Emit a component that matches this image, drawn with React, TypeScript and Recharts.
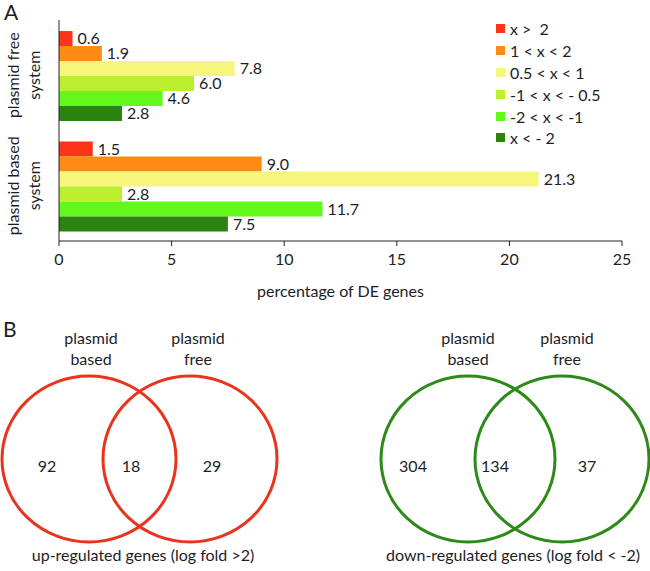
import React from 'react';
import {
  BarChart, Bar, XAxis, YAxis, LabelList,
  ScatterChart, Scatter,
} from 'recharts';

// panel A data
const groups = ['plasmid free system', 'plasmid based system'];
const groupLines = [['plasmid free', 'system'], ['plasmid based', 'system']];
const seriesNames = ['x >  2', '1 < x < 2', '0.5 < x < 1', '-1 < x < - 0.5', '-2 < x < -1', 'x < - 2'];
const seriesKeys = ['s1', 's2', 's3', 's4', 's5', 's6'];
const seriesColors = ['#fc3418', '#fd8b14', '#f6f67c', '#bcf02e', '#62f81a', '#2c8410'];
const plasmidFree = [0.6, 1.9, 7.8, 6.0, 4.6, 2.8];
const plasmidBased = [1.5, 9.0, 21.3, 2.8, 11.7, 7.5];
const xTicks = [0, 5, 10, 15, 20, 25];

// panel B data
const upCounts = [92, 18, 29];
const downCounts = [304, 134, 37];
const setNames = [['plasmid', 'based'], ['plasmid', 'free']];
const captions = ['up-regulated genes (log fold >2)', 'down-regulated genes (log fold < -2)'];

const barData = groups.map((g, i) => {
  const row: Record<string, any> = { group: g };
  const vals = i === 0 ? plasmidFree : plasmidBased;
  seriesKeys.forEach((k, j) => { row[k] = vals[j]; });
  return row;
});

const FONT = 'Lato, "Open Sans", sans-serif';
const TXT = '#1d1d28';

const GroupTick = (props: any) => {
  const { y, index } = props;
  const lines = groupLines[index] || [];
  return (
    <text transform={`translate(19,${y}) rotate(-90)`} textAnchor="middle" fontSize={16} fill={TXT} fontFamily={FONT}>
      {lines.map((l, i) => (
        <tspan key={i} x={0} dy={i === 0 ? 0 : 21}>{l}</tspan>
      ))}
    </text>
  );
};

const LegendBox = () => (
  <div style={{ fontFamily: FONT, fontSize: 16, color: TXT }}>
    {seriesNames.map((n, i) => (
      <div key={n} style={{ display: 'flex', alignItems: 'center', height: 21.8 }}>
        <span style={{ width: 9, height: 9, background: seriesColors[i], display: 'inline-block', marginRight: 5 }} />
        <span style={{ whiteSpace: 'pre' }}>{n}</span>
      </div>
    ))}
  </div>
);

// venn layout (pixel space of lower chart)
const vennCircles = [
  { x: 89, y: 459, c: '#e8341e' }, { x: 190, y: 459, c: '#e8341e' },
  { x: 468, y: 459, c: '#2e8a18' }, { x: 562, y: 459, c: '#2e8a18' },
];
const countPos = [
  { x: 47, y: 468 }, { x: 131, y: 468 }, { x: 212, y: 468 },
  { x: 413, y: 468 }, { x: 495, y: 468 }, { x: 587, y: 468 },
];
const textItems = [
  ...[...upCounts, ...downCounts].map((v, i) => ({ ...countPos[i], t: String(v) })),
  { x: 91, y: 340, t: setNames[0][0] }, { x: 91, y: 361, t: setNames[0][1] },
  { x: 198, y: 340, t: setNames[1][0] }, { x: 198, y: 361, t: setNames[1][1] },
  { x: 468, y: 340, t: setNames[0][0] }, { x: 468, y: 361, t: setNames[0][1] },
  { x: 567, y: 340, t: setNames[1][0] }, { x: 567, y: 361, t: setNames[1][1] },
  { x: 143, y: 557, t: captions[0] }, { x: 513, y: 557, t: captions[1] },
];

const Ellipse = (props: any) => (
  <ellipse cx={props.cx} cy={props.cy} rx={87} ry={83} fill="none" stroke={props.payload.c} strokeWidth={3} />
);
const Txt = (props: any) => (
  <text x={props.cx} y={props.cy} textAnchor="middle" dominantBaseline="middle" fontSize={16} fill={TXT} fontFamily={FONT}>
    {props.payload.t}
  </text>
);

export default function App() {
  return (
    <div style={{ position: 'absolute', left: 0, top: 0, width: 650, height: 571, background: '#fff', fontFamily: FONT }}>
      <div style={{ position: 'absolute', left: 0, top: 0 }}>
        <BarChart
          width={650}
          height={305}
          data={barData}
          layout="vertical"
          barCategoryGap="10%"
          barGap={0}
          margin={{ top: 20, right: 28, left: 14, bottom: 0 }}
        >
          <XAxis
            type="number"
            domain={[0, 25]}
            ticks={xTicks}
            tick={{ fill: TXT, fontSize: 16, fontFamily: FONT }}
            tickLine={{ stroke: '#222' }}
            axisLine={{ stroke: '#222' }}
            tickSize={5}
            tickMargin={8}
            height={64}
            label={{ value: 'percentage of DE genes', position: 'insideBottom', offset: 8, fill: TXT, fontSize: 16, fontFamily: FONT }}
          />
          <YAxis
            yAxisId="edges"
            type="number"
            domain={[0, 2]}
            ticks={[0, 1, 2]}
            width={0}
            tick={false}
            tickSize={5}
            tickLine={{ stroke: '#222' }}
            axisLine={false}
          />
          <YAxis
            type="category"
            dataKey="group"
            width={45}
            tick={<GroupTick />}
            tickLine={false}
            axisLine={{ stroke: '#222' }}
          />
          {seriesKeys.map((k, i) => (
            <Bar key={k} dataKey={k} name={seriesNames[i]} fill={seriesColors[i]} isAnimationActive={false}>
              <LabelList
                dataKey={k}
                position="right"
                offset={5}
                formatter={(v: any) => Number(v).toFixed(1)}
                style={{ fill: TXT, fontSize: 16, fontFamily: FONT }}
              />
            </Bar>
          ))}
        </BarChart>
      </div>
      <div style={{ position: 'absolute', left: 496, top: 18 }}>
        <LegendBox />
      </div>
      <div style={{ position: 'absolute', left: 0, top: 300 }}>
        <ScatterChart width={650} height={271} margin={{ top: 0, right: 0, bottom: 0, left: 0 }}>
          <XAxis type="number" dataKey="x" domain={[0, 650]} hide />
          <YAxis type="number" dataKey="y" domain={[300, 571]} reversed hide />
          <Scatter data={vennCircles} shape={<Ellipse />} isAnimationActive={false} />
          <Scatter data={textItems} shape={<Txt />} isAnimationActive={false} />
        </ScatterChart>
      </div>
      <div style={{ position: 'absolute', left: 4, top: 1, fontSize: 21, lineHeight: '21px', color: TXT }}>A</div>
      <div style={{ position: 'absolute', left: 3, top: 318, fontSize: 21, lineHeight: '21px', color: TXT }}>B</div>
    </div>
  );
}
